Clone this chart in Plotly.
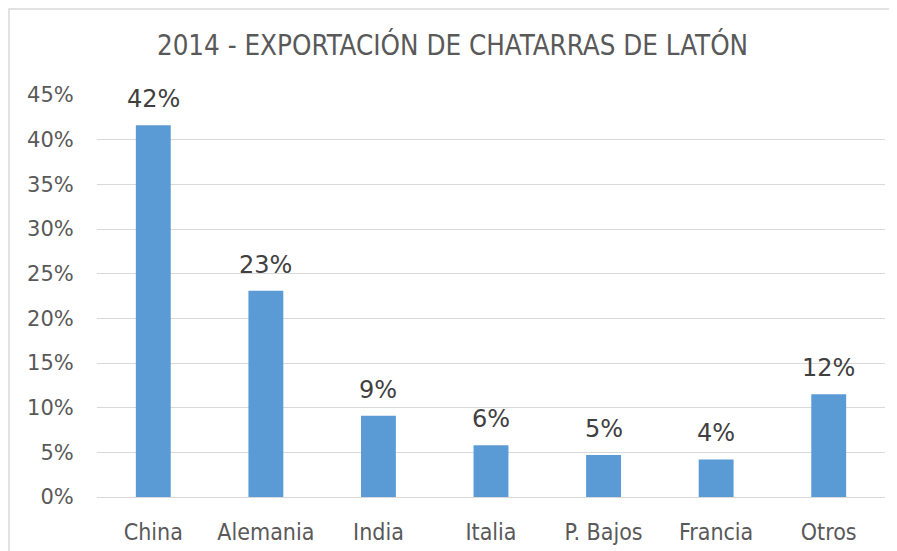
import plotly.graph_objects as go

countries = ["China", "Alemania", "India", "Italia", "P. Bajos", "Francia", "Otros"]
shares = [0.416, 0.231, 0.091, 0.058, 0.047, 0.042, 0.115]
y_ticks = [0, 0.05, 0.10, 0.15, 0.20, 0.25, 0.30, 0.35, 0.40, 0.45]

bar_color = "#5B9BD5"
grid_color = "#D9D9D9"
text_color = "#595959"

# page body adds ~8px offset, so the figure is a bit smaller than the window
W, H = 889, 543
L, R, T, B = 89, 12, 87, 54

fig = go.Figure()
fig.add_trace(
    go.Bar(
        x=countries,
        y=shares,
        marker_color=bar_color,
        marker_line_width=0,
    )
)
for c, v in zip(countries, shares):
    fig.add_annotation(
        x=c,
        y=v,
        text=f"{v:.0%}",
        showarrow=False,
        yanchor="bottom",
        yshift=10,
        font=dict(family="DejaVu Sans", size=24, color="#404040"),
    )

fig.update_layout(
    width=W,
    height=H,
    margin=dict(l=L, r=R, t=T, b=B),
    plot_bgcolor="white",
    paper_bgcolor="white",
    showlegend=False,
    bargap=0.69,
    title=dict(
        text="2014 - EXPORTACIÓN DE CHATARRAS DE LATÓN",
        x=0.5,
        xanchor="center",
        y=1 - 37 / H,
        yanchor="middle",
        font=dict(family="DejaVu Sans Condensed", size=27.5, color=text_color),
    ),
)
fig.update_yaxes(
    range=[0, 0.45],
    tickvals=y_ticks,
    tickformat=".0%",
    gridcolor=grid_color,
    gridwidth=1,
    zeroline=False,
    showline=False,
    ticks="outside",
    ticklen=18,
    tickcolor="white",
    automargin=False,
    tickfont=dict(family="DejaVu Sans", size=21, color=text_color),
)
fig.update_xaxes(
    showline=True,
    linecolor=grid_color,
    linewidth=1,
    ticks="outside",
    ticklen=14,
    tickcolor="white",
    automargin=False,
    tickfont=dict(family="DejaVu Sans Condensed", size=23, color=text_color),
)
# chart frame (cropped on the right and bottom)
pw = W - L - R
ph = H - T - B
fig.add_shape(
    type="rect",
    xref="paper",
    yref="paper",
    x0=-(L - 1) / pw,
    x1=1.2,
    y0=-0.3,
    y1=1 + (T - 1) / ph,
    line=dict(color=grid_color, width=1.5),
    layer="below",
)

fig.write_html("out.html")
